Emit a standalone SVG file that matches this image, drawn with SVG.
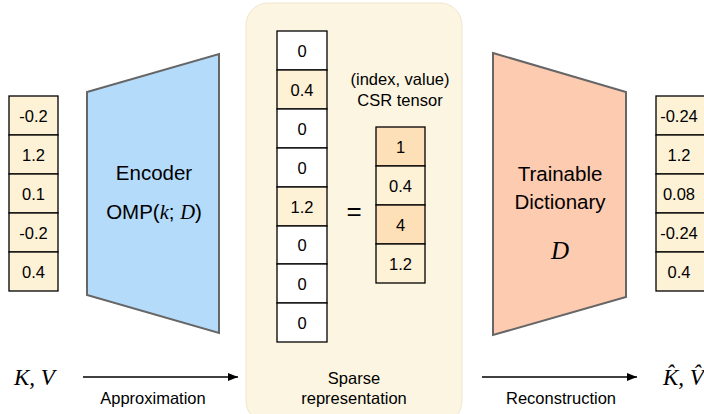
<svg xmlns="http://www.w3.org/2000/svg" width="704" height="414" viewBox="0 0 704 414">
<defs>
<marker id="ah" viewBox="0 0 10 10" refX="10" refY="5" markerWidth="10" markerHeight="10" markerUnits="userSpaceOnUse" orient="auto">
<path d="M0,1 L10,5 L0,9 Z" fill="#000"/>
</marker>
</defs>
<style>
text{font-family:"Liberation Sans",Arial,sans-serif;fill:#000}
.num{font-size:16.5px;text-anchor:middle}
.lab{font-size:16.5px;text-anchor:middle}
.big{font-size:20.5px;text-anchor:middle}
.math{font-family:"Liberation Serif","Times New Roman",serif;font-style:italic}
.cell{stroke:#000;stroke-width:1.3}
.cream{fill:#fdf1d6}
.peach{fill:#fde0b8}
.white{fill:#fff}
.trap{stroke:#666;stroke-width:2}
</style>
<g id="sparse-panel">
<rect x="246" y="3" width="216" height="420" rx="22" fill="#fcf5e1" stroke="#efe6cc" stroke-width="1"/>
</g>
<g id="input-vector">
<rect class="cell cream" x="9" y="96" width="49" height="39"/>
<rect class="cell cream" x="9" y="135" width="49" height="39"/>
<rect class="cell cream" x="9" y="174" width="49" height="39"/>
<rect class="cell cream" x="9" y="213" width="49" height="39"/>
<rect class="cell cream" x="9" y="252" width="49" height="39"/>
<text class="num" x="33.5" y="121.5">-0.2</text>
<text class="num" x="33.5" y="160.5">1.2</text>
<text class="num" x="33.5" y="199.5">0.1</text>
<text class="num" x="33.5" y="238.5">-0.2</text>
<text class="num" x="33.5" y="277.5">0.4</text>
</g>
<g id="encoder">
<polygon class="trap" points="87,92 219,54 219,333 87,295" fill="#b5dbfb"/>
<text class="big" x="154" y="180">Encoder</text>
<text class="big" x="154" y="219">OMP(<tspan class="math">k</tspan>; <tspan class="math">D</tspan>)</text>
</g>
<g id="sparse-vector">
<rect class="cell white" x="277" y="31" width="50" height="39"/>
<rect class="cell cream" x="277" y="70" width="50" height="39"/>
<rect class="cell white" x="277" y="109" width="50" height="39"/>
<rect class="cell white" x="277" y="148" width="50" height="39"/>
<rect class="cell cream" x="277" y="187" width="50" height="39"/>
<rect class="cell white" x="277" y="226" width="50" height="38"/>
<rect class="cell white" x="277" y="264" width="50" height="39"/>
<rect class="cell white" x="277" y="303" width="50" height="39"/>
<text class="num" x="302" y="56.5">0</text>
<text class="num" x="302" y="95.5">0.4</text>
<text class="num" x="302" y="134.5">0</text>
<text class="num" x="302" y="173.5">0</text>
<text class="num" x="302" y="212.5">1.2</text>
<text class="num" x="302" y="251">0</text>
<text class="num" x="302" y="289.5">0</text>
<text class="num" x="302" y="328.5">0</text>
</g>
<g id="equals">
<text x="354" y="220" style="font-size:26px;text-anchor:middle">=</text>
</g>
<g id="csr-tensor">
<text class="lab" x="400" y="85">(index, value)</text>
<text class="lab" x="400" y="106">CSR tensor</text>
<rect class="cell peach" x="376" y="127" width="49" height="39"/>
<rect class="cell cream" x="376" y="166" width="49" height="39"/>
<rect class="cell peach" x="376" y="205" width="49" height="39"/>
<rect class="cell cream" x="376" y="244" width="49" height="39"/>
<text class="num" x="400.5" y="152.5">1</text>
<text class="num" x="400.5" y="191.5">0.4</text>
<text class="num" x="400.5" y="230.5">4</text>
<text class="num" x="400.5" y="269.5">1.2</text>
</g>
<g id="sparse-label">
<text class="lab" x="354" y="384">Sparse</text>
<text class="lab" x="354" y="404">representation</text>
</g>
<g id="dictionary">
<polygon class="trap" points="493,53 626,92 626,297 493,335" fill="#fdcbb0"/>
<text class="big" x="560" y="181">Trainable</text>
<text class="big" x="560" y="209">Dictionary</text>
<text class="math" x="560" y="259" style="font-size:25px;text-anchor:middle">D</text>
</g>
<g id="output-vector">
<rect class="cell cream" x="656" y="96" width="50" height="39"/>
<rect class="cell cream" x="656" y="135" width="50" height="39"/>
<rect class="cell cream" x="656" y="174" width="50" height="39"/>
<rect class="cell cream" x="656" y="213" width="50" height="39"/>
<rect class="cell cream" x="656" y="252" width="50" height="39"/>
<text class="num" x="679" y="121.5">-0.24</text>
<text class="num" x="679" y="160.5">1.2</text>
<text class="num" x="679" y="199.5">0.08</text>
<text class="num" x="679" y="238.5">-0.24</text>
<text class="num" x="679" y="277.5">0.4</text>
</g>
<g id="kv-in">
<text class="math" x="14" y="385" style="font-size:23px">K, V</text>
</g>
<g id="kv-out">
<text class="math" x="663" y="385" style="font-size:23px">K̂, V̂</text>
</g>
<g id="connectors">
<line x1="83" y1="377" x2="238" y2="377" stroke="#000" stroke-width="1.3" marker-end="url(#ah)"/>
<line x1="482" y1="377" x2="637" y2="377" stroke="#000" stroke-width="1.3" marker-end="url(#ah)"/>
<text class="lab" x="153" y="404">Approximation</text>
<text class="lab" x="561" y="404">Reconstruction</text>
</g>
</svg>
